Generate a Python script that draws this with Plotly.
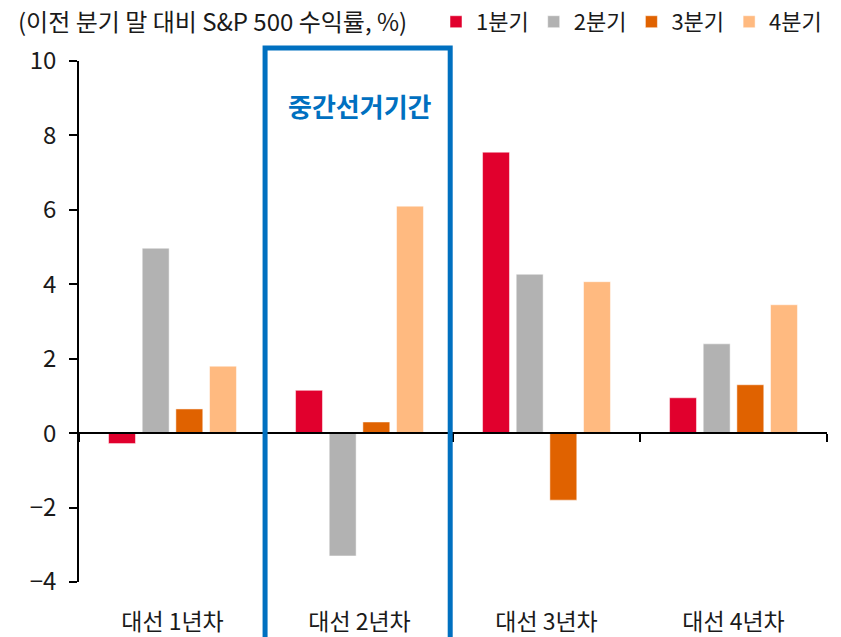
import plotly.graph_objects as go

years = ["대선 1년차", "대선 2년차", "대선 3년차", "대선 4년차"]
quarters = ["1분기", "2분기", "3분기", "4분기"]
q1 = [-0.28, 1.15, 7.55, 0.95]
q2 = [4.97, -3.3, 4.27, 2.4]
q3 = [0.65, 0.3, -1.8, 1.3]
q4 = [1.8, 6.1, 4.07, 3.45]
y_ticks = [-4, -2, 0, 2, 4, 6, 8, 10]

_COLORS = ["#E1002D", "#B2B2B2", "#E06200", "#FFBA80"]
_BLUE = "#0070C0"
_FONT = "Noto Sans CJK KR, Noto Sans, sans-serif"

fig = go.Figure()
for name, vals, col in zip(quarters, [q1, q2, q3, q4], _COLORS):
    fig.add_trace(go.Bar(x=years, y=vals, name=name,
                         marker=dict(color=col, line=dict(color="white", width=0.5))))

fig.update_layout(
    width=841, height=637,
    margin=dict(l=79, r=14, t=61, b=55, autoexpand=False),
    paper_bgcolor="white", plot_bgcolor="white",
    font=dict(family=_FONT, size=23, color="#1a1a1a"),
    barmode="group", bargap=0.28, bargroupgap=0.2,
    title=dict(text="(이전 분기 말 대비 S&P 500 수익률, %)", xref="container", yref="container",
               x=18 / 841, xanchor="left", y=1 - 23 / 637, yanchor="middle",
               font=dict(size=24, color="#1a1a1a")),
    legend=dict(orientation="h", x=1.0, xanchor="right", y=1.075, yanchor="middle",
                font=dict(size=22), itemwidth=30, traceorder="normal"),
    # category axis sits on the zero line, labels pushed down to the bottom
    xaxis=dict(type="category", range=[-0.5, 3.5], anchor="free", position=4 / 14,
               showline=True, linecolor="black", linewidth=1.5,
               ticks="outside", tickson="boundaries", ticklen=8,
               tickcolor="black", tickwidth=1.5,
               showgrid=False, zeroline=False, ticklabelstandoff=169),
    yaxis=dict(range=[-4, 10], tickvals=y_ticks, showline=True, linecolor="black",
               linewidth=1.5, ticks="outside", ticklen=8, tickcolor="black", tickwidth=1.5,
               showgrid=False, zeroline=False, ticklabelstandoff=8,
               tickfont=dict(size=24)),
    showlegend=True,
)

fig.add_shape(type="rect", xref="x", yref="paper", x0=0.495, x1=1.485, y0=-0.3, y1=1.025,
              line=dict(color=_BLUE, width=5), fillcolor="rgba(0,0,0,0)", layer="above")
fig.add_annotation(text="<b>중간선거기간</b>", xref="x", yref="paper", x=1, y=0.954,
                   showarrow=False, font=dict(size=26, color=_BLUE))

# the page's default body margin shifts the figure by 8px; remove it
fig.write_html("out.html", config={"displayModeBar": False},
               post_script="document.body.style.margin='0';")
